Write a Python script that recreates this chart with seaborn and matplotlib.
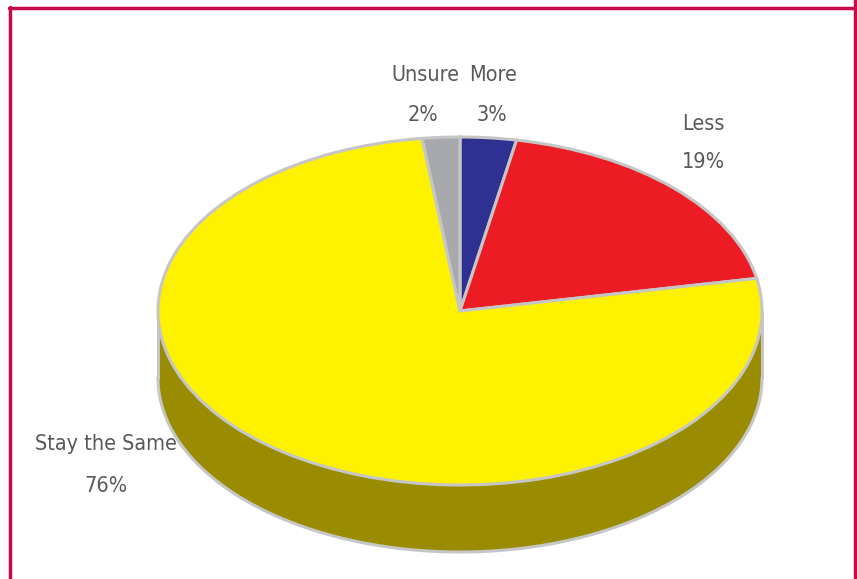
import numpy as np
import matplotlib
matplotlib.use("Agg")
import matplotlib.pyplot as plt
import seaborn as sns
from matplotlib.lines import Line2D

sns.set_theme(style="white")
plt.rcParams['font.family'] = ['DejaVu Sans']

categories = ["More", "Less", "Stay the Same", "Unsure"]
values = [3, 19, 76, 2]
pct_labels = ["3%", "19%", "76%", "2%"]
colors = ["#2e3192", "#ed1c24", "#fff200", "#a7a9ac"]
side_color = "#998c00"
edge_color = "#c6c6c6"
text_color = "#58595b"

W, H = 857, 579
fig = plt.figure(figsize=(W / 100, H / 100), dpi=100)
ax = fig.add_axes([0, 0, 1, 1])

cx, cy = 460, 311
rx, ry = 302, 174
depth = 67 / ry

t = np.linspace(np.pi, 2 * np.pi, 300)
xs = np.cos(t)
ytop = np.sin(t)
ax.fill_between(xs, ytop - depth, ytop, color=side_color, zorder=1, lw=0)
ax.plot(xs, ytop - depth, color=edge_color, lw=2.2, zorder=2)
ax.plot([-1, -1], [0, -depth], color=edge_color, lw=2.2, zorder=2)
ax.plot([1, 1], [0, -depth], color=edge_color, lw=2.2, zorder=2)

wedges, _ = ax.pie(values, colors=colors, startangle=90, counterclock=False,
                   radius=1, center=(0, 0),
                   wedgeprops=dict(edgecolor=edge_color, linewidth=2.2))
for w in wedges:
    w.set_zorder(3)

ax.set_aspect('auto')
ax.set_xlim((0 - cx) / rx, (W - cx) / rx)
ax.set_ylim((cy - H) / ry, cy / ry)
ax.axis('off')

def px(x, y):
    return ((x - cx) / rx, (cy - y) / ry)

label_pos = {
    "More": ((493, 75), (492, 115)),
    "Less": ((703, 124), (703, 162)),
    "Stay the Same": ((106, 444), (106, 486)),
    "Unsure": ((425, 75), (423, 115)),
}
for cat, pct in zip(categories, pct_labels):
    (x1, y1), (x2, y2) = label_pos[cat]
    ax.text(*px(x1, y1), cat, ha='center', va='center', fontsize=15.5,
            color=text_color, zorder=5, fontstretch='condensed')
    ax.text(*px(x2, y2), pct, ha='center', va='center', fontsize=15.5,
            color=text_color, zorder=5, fontstretch='condensed')

bc = "#c8084a"
fig.add_artist(Line2D([9.5 / W, 9.5 / W], [0, 1 - 7 / H], color=bc, lw=2.5, transform=fig.transFigure))
fig.add_artist(Line2D([9 / W, 855 / W], [1 - 8 / H, 1 - 8 / H], color=bc, lw=2.5, transform=fig.transFigure))
fig.add_artist(Line2D([854.5 / W, 854.5 / W], [0, 1], color=bc, lw=2.5, transform=fig.transFigure))

fig.savefig("out.png", dpi=100)
